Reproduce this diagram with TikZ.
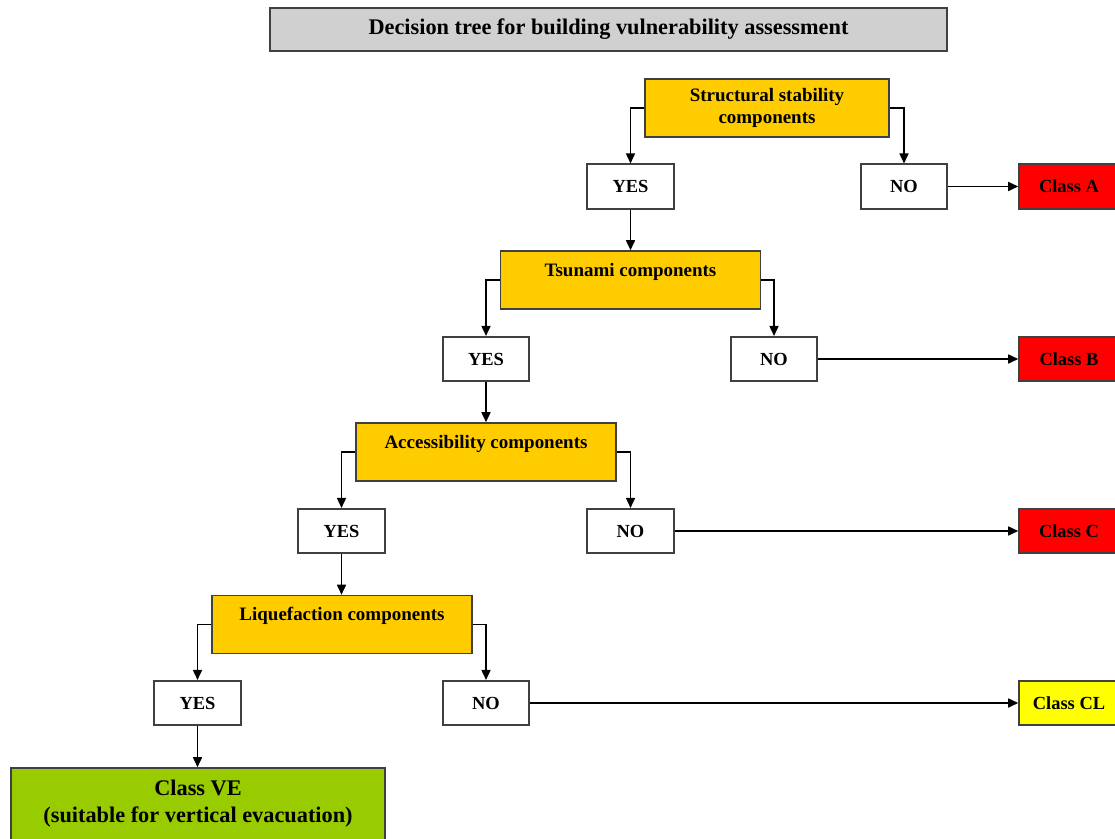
\documentclass[tikz,border=0pt]{standalone}
\usepackage{fontspec}
\setmainfont{Liberation Serif}
\usetikzlibrary{arrows.meta}
\definecolor{titlegray}{HTML}{D0D0D0}
\definecolor{decgold}{HTML}{FFCC00}
\definecolor{classred}{HTML}{FF0000}
\definecolor{classyellow}{HTML}{FFFF00}
\definecolor{classgreen}{HTML}{99CC00}
\definecolor{edge}{HTML}{404040}
\tikzset{
  box/.style={draw=edge, line width=0.9pt, inner sep=0pt, align=center},
  titlebox/.style={box, fill=titlegray, minimum width=13.54cm, minimum height=0.86cm,
    font=\fontsize{12.7}{15}\selectfont\bfseries},
  decision/.style={box, fill=decgold, minimum width=5.2cm, minimum height=1.16cm,
    font=\fontsize{10.8}{13}\selectfont\bfseries},
  lifted/.style={text depth=0.42cm},
  answer/.style={box, fill=white, minimum width=1.73cm, minimum height=0.89cm,
    font=\fontsize{10.5}{12.5}\selectfont\bfseries},
  classbox/.style={box, minimum width=2.0cm, minimum height=0.89cm,
    font=\fontsize{10.5}{12.5}\selectfont\bfseries},
  finalbox/.style={box, fill=classgreen, minimum width=7.48cm, minimum height=1.44cm,
    font=\fontsize{12.7}{15.5}\selectfont\bfseries},
  arr/.style={-{Triangle[length=0.2cm,width=0.18cm]}, line width=0.9pt, draw=black},
}
\begin{document}
\begin{tikzpicture}[x=0.02cm,y=-0.02cm]
\useasboundingbox (0,0) rectangle (1115,838);
\clip (0,0) rectangle (1115,838);

% title
\node[titlebox] (title) at (608.5,29.5) {Decision tree for building vulnerability assessment};

% level 1
\node[decision, minimum width=4.88cm] (d1) at (767,108) {Structural stability\\components};
\node[answer] (y1) at (630.5,186.5) {YES};
\node[answer] (n1) at (904,186.5) {NO};
\node[classbox, fill=classred] (cA) at (1069,186.5) {Class A};

% level 2
\node[decision, lifted] (d2) at (630.5,280) {Tsunami components};
\node[answer] (y2) at (486,359) {YES};
\node[answer] (n2) at (774,359) {NO};
\node[classbox, fill=classred] (cB) at (1069,359) {Class B};

% level 3
\node[decision, lifted] (d3) at (486,452) {Accessibility components};
\node[answer] (y3) at (341.5,531) {YES};
\node[answer] (n3) at (630.5,531) {NO};
\node[classbox, fill=classred] (cC) at (1069,531) {Class C};

% level 4
\node[decision, lifted] (d4) at (342,624.5) {Liquefaction components};
\node[answer] (y4) at (197.5,703) {YES};
\node[answer] (n4) at (486,703) {NO};
\node[classbox, fill=classyellow] (cCL) at (1069,703) {Class CL};

% final class
\node[finalbox] (ve) at (198,804) {Class VE\\(suitable for vertical evacuation)};

% branches out of each decision
\foreach \d/\y/\n in {d1/y1/n1, d2/y2/n2, d3/y3/n3, d4/y4/n4}{
  \draw[arr] (\d.west) -| (\y.north);
  \draw[arr] (\d.east) -| (\n.north);
}
% YES leads to the next decision
\draw[arr] (y1.south) -- (y1.south |- d2.north);
\draw[arr] (y2.south) -- (y2.south |- d3.north);
\draw[arr] (y3.south) -- (y3.south |- d4.north);
\draw[arr] (y4.south) -- (y4.south |- ve.north);
% NO leads to a class
\draw[arr] (n1.east) -- (cA.west);
\draw[arr] (n2.east) -- (cB.west);
\draw[arr] (n3.east) -- (cC.west);
\draw[arr] (n4.east) -- (cCL.west);
\end{tikzpicture}
\end{document}
